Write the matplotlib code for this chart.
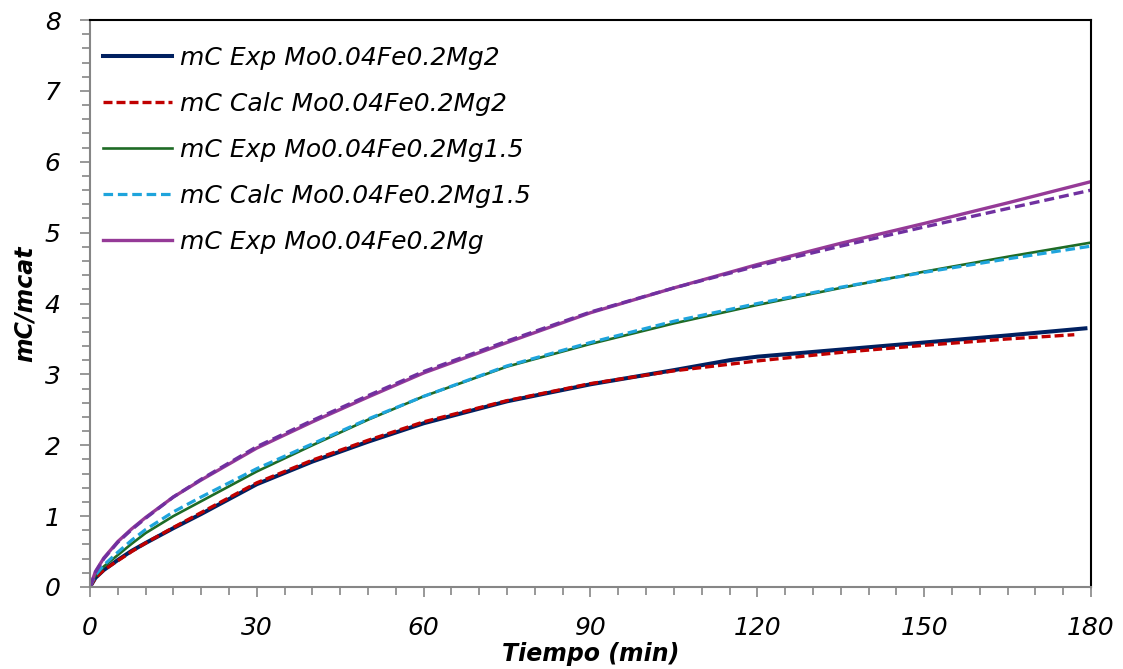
import numpy as np
import matplotlib.pyplot as plt
from matplotlib.ticker import MultipleLocator

# time points (min) and mC/mcat values
t = [0, 1, 2.5, 5, 7.5, 10, 15, 20, 30, 40, 50, 60, 75, 90, 105, 120, 135, 150, 165, 180]

exp_mg2_t = [0, 1, 2.5, 5, 7.5, 10, 15, 20, 30, 40, 50, 60, 75, 90, 105, 115, 120, 135, 150, 165, 179]
exp_mg2 = [0, 0.13, 0.24, 0.38, 0.51, 0.62, 0.83, 1.03, 1.45, 1.77, 2.05, 2.31, 2.62, 2.86, 3.06, 3.20, 3.25, 3.35, 3.45, 3.55, 3.65]

calc_mg2_t = [0, 1, 2.5, 5, 7.5, 10, 15, 20, 30, 40, 50, 60, 75, 90, 105, 120, 135, 150, 165, 177]
calc_mg2 = [0, 0.13, 0.24, 0.37, 0.50, 0.62, 0.84, 1.05, 1.47, 1.79, 2.07, 2.33, 2.63, 2.87, 3.05, 3.19, 3.31, 3.41, 3.50, 3.56]

exp_mg15 = [0, 0.16, 0.29, 0.45, 0.61, 0.76, 1.0, 1.21, 1.63, 2.0, 2.36, 2.69, 3.11, 3.43, 3.72, 3.98, 4.22, 4.45, 4.66, 4.86]
calc_mg15 = [0, 0.17, 0.31, 0.49, 0.66, 0.81, 1.06, 1.27, 1.67, 2.02, 2.37, 2.69, 3.12, 3.45, 3.75, 4.0, 4.23, 4.44, 4.63, 4.81]

exp_mg = [0, 0.22, 0.41, 0.64, 0.82, 0.98, 1.27, 1.51, 1.96, 2.33, 2.68, 3.02, 3.45, 3.87, 4.22, 4.55, 4.85, 5.13, 5.42, 5.72]
calc_mg = [0, 0.21, 0.40, 0.63, 0.81, 0.97, 1.27, 1.52, 1.98, 2.35, 2.70, 3.04, 3.47, 3.88, 4.22, 4.53, 4.81, 5.08, 5.34, 5.60]

labels = ['mC Exp Mo0.04Fe0.2Mg2', 'mC Calc Mo0.04Fe0.2Mg2',
          'mC Exp Mo0.04Fe0.2Mg1.5', 'mC Calc Mo0.04Fe0.2Mg1.5',
          'mC Exp Mo0.04Fe0.2Mg']

plt.rcParams['font.family'] = ['DejaVu Sans']

fig = plt.figure(figsize=(11.23, 6.69), dpi=100)
ax = fig.add_axes([0.0801, 0.1226, 0.8914, 0.8474])

ax.plot(exp_mg2_t, exp_mg2, color='#002060', lw=2.9, label=labels[0])
ax.plot(calc_mg2_t, calc_mg2, color='#c00000', lw=2.4, ls=(0, (2.7, 1.2)), label=labels[1])
ax.plot(t, exp_mg15, color='#1e6b25', lw=1.9, label=labels[2])
ax.plot(t, calc_mg15, color='#1ea4dc', lw=2.3, ls=(0, (3, 1.5)), label=labels[3])
ax.plot(t, exp_mg, color='#953a97', lw=2.4, label=labels[4])
ax.plot(t, calc_mg, color='#7030a0', lw=2.4, ls=(0, (3, 1.5)))

ax.set_xlim(0, 180)
ax.set_ylim(0, 8)
ax.xaxis.set_major_locator(MultipleLocator(30))
ax.xaxis.set_minor_locator(MultipleLocator(5))
ax.yaxis.set_major_locator(MultipleLocator(1))
ax.yaxis.set_minor_locator(MultipleLocator(0.2))

for s in ['left', 'bottom']:
    ax.spines[s].set_color('#868686')
    ax.spines[s].set_linewidth(1.5)
for s in ['right', 'top']:
    ax.spines[s].set_color('black')
    ax.spines[s].set_linewidth(1.5)

ax.tick_params(which='both', direction='out', color='#868686', width=1.2)
ax.tick_params(which='major', length=7, labelsize=18)
ax.tick_params(which='minor', length=6)
ax.tick_params(axis='x', which='major', pad=14)
ax.tick_params(axis='y', which='major', pad=14)
for lab in ax.get_xticklabels() + ax.get_yticklabels():
    lab.set_fontstyle('italic')

ax.set_xlabel('Tiempo (min)', fontsize=17, fontweight='bold', fontstyle='italic', labelpad=1)
ax.set_ylabel('mC/mcat', fontsize=17, fontweight='bold', fontstyle='italic', labelpad=6)

leg = ax.legend(loc='upper left', bbox_to_anchor=(0.013, 0.955), frameon=False,
                fontsize=18, handlelength=2.75, handletextpad=0.35,
                labelspacing=0.88, borderaxespad=0, borderpad=0)
for txt in leg.get_texts():
    txt.set_fontstyle('italic')

fig.savefig('out.png', dpi=100)
